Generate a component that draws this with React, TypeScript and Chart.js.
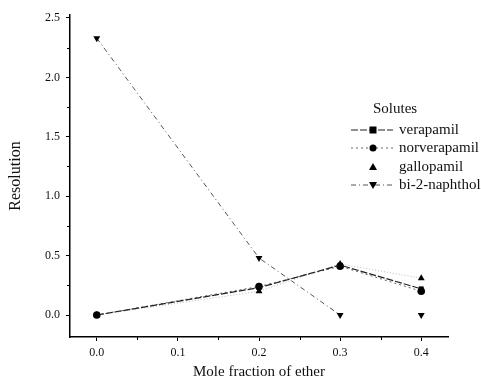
import React, { useEffect, useRef } from "react";
import { Chart, registerables } from "chart.js";

Chart.register(...registerables);

const moleFractions = [0.0, 0.2, 0.3, 0.4];
const verapamil = [0.0, 0.23, 0.42, 0.22];
const norverapamil = [0.0, 0.24, 0.41, 0.2];
const gallopamil = [0.0, 0.2, 0.43, 0.31];
const bi2naphthol = [2.33, 0.48, 0.0, 0.0];
const seriesNames = ["verapamil", "norverapamil", "gallopamil", "bi-2-naphthol"];
const xMajorTicks = [0.0, 0.1, 0.2, 0.3, 0.4];
const xMinorTicks = [0.05, 0.15, 0.25, 0.35];
const yMajorTicks = [0.0, 0.5, 1.0, 1.5, 2.0, 2.5];
const yMinorTicks = [0.25, 0.75, 1.25, 1.75, 2.25];

const FONT = "'Liberation Serif', 'DejaVu Serif', serif";

const toPts = (ys: number[]) => moleFractions.map((x, i) => ({ x, y: ys[i] }));

const minorTickPlugin = {
  id: "minorTicks",
  afterDraw(chart: any) {
    const ctx = chart.ctx;
    const xs = chart.scales.x;
    const ys = chart.scales.y;
    const area = chart.chartArea;
    ctx.save();
    ctx.strokeStyle = "#000";
    ctx.lineWidth = 1;
    ctx.beginPath();
    xMinorTicks.forEach((v) => {
      const px = Math.round(xs.getPixelForValue(v)) + 0.5;
      ctx.moveTo(px, area.bottom);
      ctx.lineTo(px, area.bottom + 3);
    });
    yMinorTicks.forEach((v) => {
      const py = Math.round(ys.getPixelForValue(v)) + 0.5;
      ctx.moveTo(area.left, py);
      ctx.lineTo(area.left - 3, py);
    });
    ctx.stroke();
    ctx.restore();
  },
};

const legendPlugin = {
  id: "customLegend",
  afterDraw(chart: any) {
    const ctx = chart.ctx;
    ctx.save();
    ctx.fillStyle = "#111";
    ctx.font = `15px ${FONT}`;
    ctx.textBaseline = "middle";
    ctx.textAlign = "left";
    ctx.fillText("Solutes", 373, 109);
    const rowY = [130, 148, 167, 185];
    chart.data.datasets.forEach((ds: any, i: number) => {
      const y = rowY[i];
      if (ds.showLegendLine) {
        ctx.save();
        ctx.strokeStyle = ds.borderColor;
        ctx.lineWidth = ds.borderWidth;
        ctx.setLineDash(ds.borderDash || []);
        ctx.beginPath();
        ctx.moveTo(351, y);
        ctx.lineTo(393, y);
        ctx.stroke();
        ctx.restore();
      }
      ctx.save();
      ctx.fillStyle = "#000";
      const r = 3.5;
      const cx = 373;
      ctx.beginPath();
      if (ds.pointStyle === "rect") {
        ctx.rect(cx - r, y - r, 2 * r, 2 * r);
      } else if (ds.pointStyle === "circle") {
        ctx.arc(cx, y, r, 0, Math.PI * 2);
      } else if (ds.pointStyle === "triangle") {
        const up = (ds.pointRotation || 0) === 0;
        if (up) {
          ctx.moveTo(cx, y - r - 0.5);
          ctx.lineTo(cx + r + 0.5, y + r - 0.5);
          ctx.lineTo(cx - r - 0.5, y + r - 0.5);
        } else {
          ctx.moveTo(cx, y + r + 0.5);
          ctx.lineTo(cx + r + 0.5, y - r + 0.5);
          ctx.lineTo(cx - r - 0.5, y - r + 0.5);
        }
        ctx.closePath();
      }
      ctx.fill();
      ctx.restore();
      ctx.fillStyle = "#111";
      ctx.font = `15px ${FONT}`;
      ctx.fillText(seriesNames[i], 399, y);
    });
    ctx.restore();
  },
};

export default function App() {
  const canvasRef = useRef<HTMLCanvasElement | null>(null);

  useEffect(() => {
    if (!canvasRef.current) return;
    const chart = new Chart(canvasRef.current, {
      type: "line",
      data: {
        datasets: [
          {
            label: seriesNames[0],
            data: toPts(verapamil),
            borderColor: "#222",
            backgroundColor: "#000",
            borderWidth: 1.2,
            borderDash: [7, 2],
            pointStyle: "rect",
            pointRadius: 3.5,
            pointBorderWidth: 0,
            showLegendLine: true,
          } as any,
          {
            label: seriesNames[1],
            data: toPts(norverapamil),
            borderColor: "#666",
            backgroundColor: "#000",
            borderWidth: 1,
            borderDash: [2, 3],
            pointStyle: "circle",
            pointRadius: 3.8,
            pointBorderWidth: 0,
            showLegendLine: true,
          } as any,
          {
            label: seriesNames[2],
            data: toPts(gallopamil),
            borderColor: "#bbb",
            backgroundColor: "#000",
            borderWidth: 1,
            borderDash: [1, 2],
            pointStyle: "triangle",
            pointRadius: 4,
            pointBorderWidth: 0,
            showLegendLine: false,
          } as any,
          {
            label: seriesNames[3],
            data: toPts(bi2naphthol),
            borderColor: "#555",
            backgroundColor: "#000",
            borderWidth: 1,
            borderDash: [5, 3, 1, 3],
            pointStyle: "triangle",
            pointRotation: 180,
            pointRadius: 4,
            pointBorderWidth: 0,
            showLegendLine: true,
            segment: {
              borderColor: (c: any) => (c.p1DataIndex === 3 ? "rgba(0,0,0,0)" : undefined),
            },
          } as any,
        ],
      },
      options: {
        animation: false,
        responsive: false,
        maintainAspectRatio: false,
        layout: { padding: { left: 0, top: 15, right: 33, bottom: 0 } },
        plugins: { legend: { display: false }, tooltip: { enabled: false } },
        elements: { line: { tension: 0 } },
        scales: {
          x: {
            type: "linear",
            min: -0.033,
            max: 0.433,
            afterBuildTicks: (s: any) => {
              s.ticks = xMajorTicks.map((v) => ({ value: v }));
            },
            afterFit: (s: any) => {
              s.height = 44;
            },
            border: { display: true, color: "#000", width: 1.5 },
            grid: { drawOnChartArea: false, drawTicks: true, tickLength: 4, color: "#000", lineWidth: 1 },
            ticks: {
              padding: 5,
              color: "#111",
              font: { family: FONT, size: 12 },
              callback: (v: any) => Number(v).toFixed(1),
              maxRotation: 0,
            },
            title: {
              display: true,
              text: "Mole fraction of ether",
              color: "#111",
              font: { family: FONT, size: 15 },
              padding: { top: 0, bottom: 0 },
            },
          },
          y: {
            type: "linear",
            min: -0.185,
            max: 2.525,
            afterBuildTicks: (s: any) => {
              s.ticks = yMajorTicks.map((v) => ({ value: v }));
            },
            afterFit: (s: any) => {
              s.width = 70;
            },
            border: { display: true, color: "#000", width: 1.5 },
            grid: { drawOnChartArea: false, drawTicks: true, tickLength: 4, color: "#000", lineWidth: 1 },
            ticks: {
              padding: 6,
              color: "#111",
              font: { family: FONT, size: 12 },
              callback: (v: any) => Number(v).toFixed(1),
            },
            title: {
              display: true,
              text: "Resolution",
              color: "#111",
              font: { family: FONT, size: 16 },
              padding: { top: 6, bottom: 0 },
            },
          },
        },
      } as any,
      plugins: [minorTickPlugin, legendPlugin],
    });
    return () => chart.destroy();
  }, []);

  return (
    <div style={{ position: "fixed", left: 0, top: 0, width: 481, height: 381, background: "#fff" }}>
      <canvas ref={canvasRef} width={481} height={381} style={{ width: 481, height: 381 }} />
    </div>
  );
}
